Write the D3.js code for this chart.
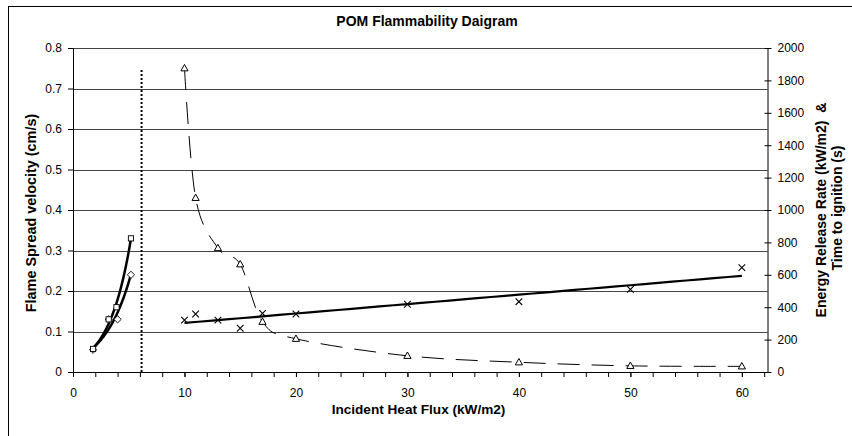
<!DOCTYPE html>
<html><head><meta charset="utf-8">
<script src="https://cdn.jsdelivr.net/npm/d3@7"></script>
<style>
body{margin:0;background:#fff}
svg{display:block}
text{font-family:"Liberation Sans",Arial,sans-serif;fill:#000}
</style>
</head><body>
<svg id="c" width="852" height="436"></svg>
<script>
// ---- data ----
const spreadFluxA = [1.8, 3.2, 3.9, 5.2];
const spreadVelA  = [0.057, 0.13, 0.16, 0.33];
const spreadFluxB = [1.8, 3.2, 4.0, 5.2];
const spreadVelB  = [0.055, 0.13, 0.13, 0.24];
const coneFlux    = [10, 11, 13, 15, 17, 20, 30, 40, 50, 60];
const energyRate  = [320, 358, 320, 270, 362, 358, 418, 434, 510, 644];
const ignTime     = [1875, 1075, 765, 665, 310, 205, 100, 60, 38, 35];
const criticalFlux = 6.15;
const criticalTop  = 0.75;
const xTicks      = [0, 10, 20, 30, 40, 50, 60];
const xMinorTicks = d3.range(0, 62.01, 2);
const yLeftTicks  = [0, 0.1, 0.2, 0.3, 0.4, 0.5, 0.6, 0.7, 0.8];
const yRightTicks = [0, 200, 400, 600, 800, 1000, 1200, 1400, 1600, 1800, 2000];
const title  = "POM Flammability Daigram";
const xTitle = "Incident Heat Flux (kW/m2)";
const yLTitle = "Flame Spread velocity (cm/s)";
const yRTitle1 = "Energy Release Rate (kW/m2)\u00a0 &";
const yRTitle2 = "Time to ignition (s)";

// ---- layout ----
const svg = d3.select("#c");
const L = 73, R = 767.5, T = 48, B = 372;
const x  = d3.scaleLinear([0, 62.3], [L, R]);
const yL = d3.scaleLinear([0, 0.8], [B, T]);
const yR = d3.scaleLinear([0, 2000], [B, T]);
const FONT = '"Liberation Sans",Arial,sans-serif';

// outer chart border
svg.append("rect").attr("x", 8.5).attr("y", 6.5).attr("width", 900).attr("height", 500)
  .attr("fill", "#fff").attr("stroke", "#000").attr("stroke-width", 1);

// gridlines
svg.append("g").selectAll("line").data(yLeftTicks.filter(d => d > 0)).join("line")
  .attr("x1", L).attr("x2", R)
  .attr("y1", d => Math.round(yL(d)) + 0.5).attr("y2", d => Math.round(yL(d)) + 0.5)
  .attr("stroke", "#444").attr("stroke-width", 1);

// axes
function styleAxis(g) {
  g.selectAll("path,line").attr("stroke", "#000");
  g.selectAll("text").attr("font-size", 12).attr("font-family", FONT);
}
svg.append("g").attr("transform", `translate(0,${B})`)
  .call(d3.axisBottom(x).tickValues(xMinorTicks).tickSize(5).tickSizeOuter(0).tickFormat(""))
  .call(styleAxis);
svg.append("g").attr("transform", `translate(0,${B})`)
  .call(d3.axisBottom(x).tickValues(xTicks).tickSize(5).tickSizeOuter(0).tickPadding(11).tickFormat(d3.format("d")))
  .call(styleAxis);
svg.append("g").attr("transform", `translate(${L},0)`)
  .call(d3.axisLeft(yL).tickValues(yLeftTicks).tickSize(5).tickSizeOuter(0).tickPadding(6)
    .tickFormat(d => d === 0 ? "0" : d3.format(".1f")(d)))
  .call(styleAxis);
const rAx = svg.append("g").attr("transform", `translate(${R},0)`)
  .call(d3.axisRight(yR).tickValues(yRightTicks).tickSize(4).tickSizeOuter(0).tickPadding(6).tickFormat(d3.format("d")))
  .call(styleAxis);
rAx.selectAll(".tick line").attr("x1", -3);

// critical flux dotted line
svg.append("line")
  .attr("x1", x(criticalFlux)).attr("x2", x(criticalFlux))
  .attr("y1", yL(0)).attr("y2", yL(criticalTop))
  .attr("stroke", "#000").attr("stroke-width", 2).attr("stroke-dasharray", "2,2");

// trendline helpers (fit computed from the data arrays)
function expFit(xs, ys) {
  const ly = ys.map(Math.log);
  const mx = d3.mean(xs), my = d3.mean(ly);
  const b = d3.sum(xs, (v, i) => (v - mx) * (ly[i] - my)) / d3.sum(xs, v => (v - mx) ** 2);
  const a = Math.exp(my - b * mx);
  return v => a * Math.exp(b * v);
}
function linFit(xs, ys) {
  const mx = d3.mean(xs), my = d3.mean(ys);
  const b = d3.sum(xs, (v, i) => (v - mx) * (ys[i] - my)) / d3.sum(xs, v => (v - mx) ** 2);
  const a = my - b * mx;
  return v => a + b * v;
}
function trendPath(xs, f, yScale) {
  const [lo, hi] = d3.extent(xs);
  const pts = d3.range(0, 41).map(i => lo + (hi - lo) * i / 40);
  return d3.line().x(d => x(d)).y(d => yScale(f(d)))(pts);
}

// flame spread trendlines
const fA = expFit(spreadFluxA, spreadVelA);
const fB = expFit(spreadFluxB, spreadVelB);
svg.append("path").attr("d", trendPath(spreadFluxA, fA, yL))
  .attr("fill", "none").attr("stroke", "#000").attr("stroke-width", 2.5);
svg.append("path").attr("d", trendPath(spreadFluxB, fB, yL))
  .attr("fill", "none").attr("stroke", "#000").attr("stroke-width", 2.5);

// energy release rate trendline
const fE = linFit(coneFlux, energyRate);
svg.append("path").attr("d", trendPath(coneFlux, fE, yR))
  .attr("fill", "none").attr("stroke", "#000").attr("stroke-width", 2.2);

// ignition time smoothed dashed line
const tigData = coneFlux.map((v, i) => [v, ignTime[i]]);
svg.append("path")
  .attr("d", d3.line().x(d => x(d[0])).y(d => yR(d[1])).curve(d3.curveCardinal.tension(0))(tigData))
  .attr("fill", "none").attr("stroke", "#000").attr("stroke-width", 1)
  .attr("stroke-dasharray", "22,12");

// markers
const spreadA = spreadFluxA.map((v, i) => [v, spreadVelA[i]]);
const spreadB = spreadFluxB.map((v, i) => [v, spreadVelB[i]]);
svg.append("g").selectAll("path").data(spreadB).join("path")
  .attr("transform", d => `translate(${x(d[0])},${yL(d[1])})`)
  .attr("d", "M0,-3.6L3.6,0L0,3.6L-3.6,0Z")
  .attr("fill", "#fff").attr("stroke", "#000").attr("stroke-width", 0.9);
svg.append("g").selectAll("rect").data(spreadA).join("rect")
  .attr("x", d => x(d[0]) - 2.6).attr("y", d => yL(d[1]) - 2.6)
  .attr("width", 5.2).attr("height", 5.2)
  .attr("fill", "#fff").attr("stroke", "#000").attr("stroke-width", 0.9);

const eData = coneFlux.map((v, i) => [v, energyRate[i]]);
svg.append("g").selectAll("path").data(eData).join("path")
  .attr("transform", d => `translate(${x(d[0])},${yR(d[1])})`)
  .attr("d", "M-3.3,-3.3L3.3,3.3M3.3,-3.3L-3.3,3.3")
  .attr("fill", "none").attr("stroke", "#000").attr("stroke-width", 1.1);

svg.append("g").selectAll("path").data(tigData).join("path")
  .attr("transform", d => `translate(${x(d[0])},${yR(d[1])})`)
  .attr("d", "M0,-3.8L3.6,2.6L-3.6,2.6Z")
  .attr("fill", "#fff").attr("stroke", "#000").attr("stroke-width", 1);

// titles
svg.append("text").attr("x", 427).attr("y", 25.5).attr("text-anchor", "middle")
  .attr("font-size", 14).attr("font-weight", "bold").text(title);
svg.append("text").attr("x", 418.5).attr("y", 414).attr("text-anchor", "middle")
  .attr("font-size", 13.6).attr("font-weight", "bold").text(xTitle);
svg.append("text").attr("transform", "translate(35.5,213) rotate(-90)").attr("text-anchor", "middle")
  .attr("font-size", 14.4).attr("font-weight", "bold").text(yLTitle);
svg.append("text").attr("transform", "translate(826,210) rotate(-90)").attr("text-anchor", "middle")
  .attr("font-size", 14).attr("font-weight", "bold").text(yRTitle1);
svg.append("text").attr("transform", "translate(842,208) rotate(-90)").attr("text-anchor", "middle")
  .attr("font-size", 14).attr("font-weight", "bold").text(yRTitle2);
</script>
</body></html>
